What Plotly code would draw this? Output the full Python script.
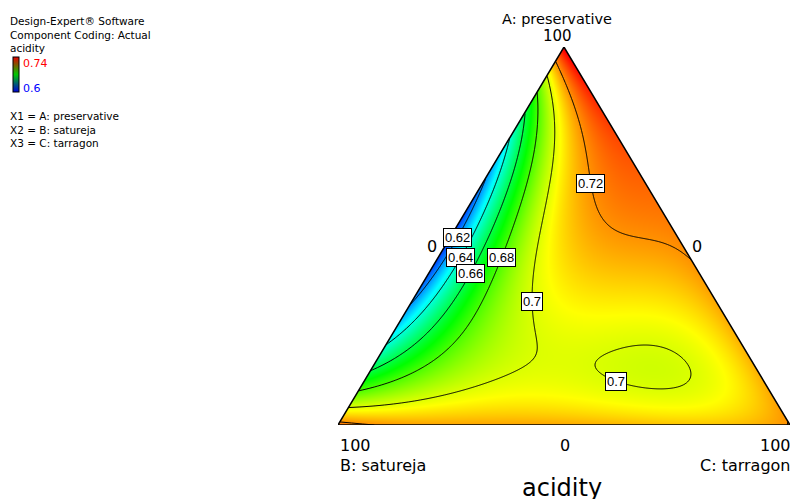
import numpy as np
import plotly.graph_objects as go

# ---------------- data ----------------
components = ["A: preservative", "B: satureja", "C: tarragon"]
response_name = "acidity"
header_lines = ["Design-Expert® Software", "Component Coding: Actual", "acidity"]
factor_lines = ["X1 = A: preservative", "X2 = B: satureja", "X3 = C: tarragon"]
scale_high_label, scale_low_label = "0.74", "0.6"
scale_low, scale_high = 0.6, 0.74
contour_start, contour_end, contour_step = 0.62, 0.72, 0.02
vertex_max_label, vertex_min_label = "100", "0"

# mixture compositions (fractions of A, B, C) and acidity
obs_A = [1.0, 0.0, 0.0,
         0.045, 0.09, 0.146, 0.217, 0.30, 0.50, 0.70, 0.75, 0.815, 0.873, 0.926, 0.965,
         0.431, 0.85, 0.65, 0.2,
         0.0, 0.0, 0.0,
         0.701, 0.754, 0.516, 0.312, 0.217, 0.164, 0.119, 0.085, 0.058, 0.251, 0.595, 0.1005, 0.143,
         0.701, 0.444, 0.331, 0.206, 0.140, 0.106,
         0.701, 0.3995, 0.331, 0.243, 0.18,
         0.701, 0.444, 0.331,
         0.495,
         0.151, 0.124, 0.209, 0.082, 0.18, 0.098, 0.1455,
         0.754, 0.640, 0.587, 0.537, 0.497, 0.487, 0.463,
         0.33, 0.10, 0.04, 0.60, 0.25, 0.40, 0.30, 0.05, 0.30, 0.1455]
obs_B = [0.0, 1.0, 0.0,
         0.955, 0.91, 0.854, 0.783, 0.70, 0.50, 0.30, 0.25, 0.185, 0.127, 0.074, 0.035,
         0.0, 0.0, 0.0, 0.0,
         0.5, 0.25, 0.75,
         0.174, 0.143, 0.291, 0.415, 0.467, 0.522, 0.626, 0.754, 0.878, 0.447, 0.242, 0.691, 0.559,
         0.218, 0.42, 0.514, 0.621, 0.7265, 0.817,
         0.2535, 0.5125, 0.576, 0.675, 0.78,
         0.278, 0.508, 0.638,
         0.4914,
         0.385, 0.153, 0.227, 0.269, 0.158, 0.356, 0.263,
         0.081, 0.120, 0.133, 0.1295, 0.090, 0.044, 0.0115,
         0.33, 0.45, 0.48, 0.05, 0.40, 0.25, 0.10, 0.10, 0.03, 0.453]
obs_C = [0.0, 0.0, 1.0,
         0.0, 0.0, 0.0, 0.0, 0.0, 0.0, 0.0, 0.0, 0.0, 0.0, 0.0, 0.0,
         0.569, 0.15, 0.35, 0.8,
         0.5, 0.75, 0.25,
         0.125, 0.103, 0.193, 0.273, 0.316, 0.314, 0.255, 0.161, 0.064, 0.302, 0.163, 0.2085, 0.298,
         0.081, 0.136, 0.155, 0.173, 0.1335, 0.077,
         0.0455, 0.088, 0.093, 0.082, 0.04,
         0.021, 0.048, 0.031,
         0.0136,
         0.464, 0.723, 0.564, 0.649, 0.662, 0.546, 0.5915,
         0.165, 0.240, 0.280, 0.3335, 0.413, 0.469, 0.5255,
         0.34, 0.45, 0.48, 0.35, 0.35, 0.35, 0.60, 0.85, 0.67, 0.401]
obs_acidity = [0.740, 0.726, 0.720,
               0.70, 0.68, 0.66, 0.64, 0.62, 0.601, 0.62, 0.64, 0.66, 0.68, 0.70, 0.72,
               0.72, 0.735, 0.728, 0.714,
               0.713, 0.715, 0.717,
               0.70, 0.70, 0.70, 0.70, 0.70, 0.70, 0.70, 0.70, 0.70, 0.70, 0.70, 0.70, 0.70,
               0.68, 0.68, 0.68, 0.68, 0.68, 0.68,
               0.66, 0.66, 0.66, 0.66, 0.66,
               0.64, 0.64, 0.64,
               0.62,
               0.70, 0.70, 0.70, 0.70, 0.70, 0.70, 0.695,
               0.72, 0.72, 0.72, 0.72, 0.72, 0.72, 0.72,
               0.706, 0.705, 0.71, 0.725, 0.704, 0.71, 0.71, 0.715, 0.713, 0.703]


# ---------------- Scheffe quartic mixture model fitted to the read values ----------------
def terms(a, b, c):
    return np.stack([a, b, c, a * b, a * c, b * c,
                     a * b * (a - b), a * c * (a - c), b * c * (b - c),
                     a * b * (a - b) ** 2, a * c * (a - c) ** 2, b * c * (b - c) ** 2,
                     a * a * b * c, a * b * b * c, a * b * c * c], axis=-1)


oa, ob, oc = (np.array(v, float) for v in (obs_A, obs_B, obs_C))
oy = np.array(obs_acidity)
# read contour crossings are more reliable than colour-estimated values
wts = np.where(np.isin(np.round(oy, 3), [0.62, 0.64, 0.66, 0.68, 0.70, 0.72]), 2.0, 1.0)
coef, *_ = np.linalg.lstsq(terms(oa, ob, oc) * wts[:, None], oy * wts, rcond=None)


def model(a, b, c):
    return terms(a, b, c) @ coef


def to_xy(a, b, c):
    a, b, c = (np.asarray(v, float) for v in (a, b, c))
    s = a + b + c
    a, c = a / s, c / s
    return c + a / 2.0, a


nu, nv = 452, 378
u = np.linspace(0, 1, nu)
v = np.linspace(0, 1, nv)
U, V = np.meshgrid(u, v)
GA = V
GC = U - V / 2.0
GB = 1.0 - GA - GC
inside = (GC >= -1e-9) & (GB >= -1e-9)
Z = np.where(inside, model(GA, GB, GC), np.nan)

colorscale = [[0.0, "rgb(0,0,255)"], [0.25, "rgb(0,255,255)"], [0.5, "rgb(0,255,0)"],
              [0.75, "rgb(255,255,0)"], [1.0, "rgb(255,0,0)"]]

# plot-area geometry (pixels)
W, H = 792, 499
L, R, T, BOT = 338, 2, 47, 74
PW, PH = W - L - R, H - T - BOT


def px(xp):
    return (xp - L) / PW


def py(yp):
    return (H - BOT - yp) / PH


fig = go.Figure()
fig.add_trace(go.Heatmap(x=u, y=v, z=Z, zmin=scale_low, zmax=scale_high,
                         colorscale=colorscale, zsmooth=False, showscale=False,
                         hoverinfo="skip"))
fig.add_trace(go.Contour(x=u, y=v, z=Z, showscale=False, hoverinfo="skip",
                         colorscale=[[0, "black"], [1, "black"]],
                         contours=dict(coloring="lines", start=contour_start,
                                       end=contour_end + 1e-6, size=contour_step,
                                       showlabels=False),
                         line=dict(width=1, color="black")))

# triangle frame from the three pure-component vertices
vx, vy = to_xy([1, 0, 0, 1], [0, 1, 0, 0], [0, 0, 1, 0])
fig.add_trace(go.Scatter(x=vx, y=vy, mode="lines", line=dict(color="black", width=1.5),
                         hoverinfo="skip", showlegend=False))

# small legend colour bar
fig.add_trace(go.Scatter(x=[None, None], y=[None, None], mode="markers", showlegend=False,
                         marker=dict(color=[scale_low, scale_high], cmin=scale_low, cmax=scale_high,
                                     colorscale=[[0, "rgb(0,0,220)"], [0.5, "rgb(0,200,0)"],
                                                 [1, "rgb(230,0,0)"]],
                                     showscale=True,
                                     colorbar=dict(x=px(13), xanchor="left", y=py(57), yanchor="top",
                                                   lenmode="pixels", len=35, thickness=6,
                                                   thicknessmode="pixels", xpad=0, ypad=0,
                                                   outlinecolor="black", outlinewidth=1,
                                                   showticklabels=False, ticks=""))))

font_family = "DejaVu Sans, Liberation Sans, Arial, sans-serif"
label_family = "Liberation Sans, Arial, sans-serif"
ann = []


def add_text(text, xpix, ypix, size, xanchor="center", color="black", family=font_family):
    ann.append(dict(text=text, x=px(xpix), y=py(ypix), xref="paper", yref="paper",
                    xanchor=xanchor, yanchor="middle", showarrow=False, borderpad=0,
                    font=dict(size=size, color=color, family=family)))


for i, t in enumerate(header_lines):
    add_text(t, 9, 21 + 13.5 * i, 10.5, "left")
add_text(scale_high_label, 22, 63, 11, "left", "red")
add_text(scale_low_label, 22, 88, 11, "left", "blue")
for i, t in enumerate(factor_lines):
    add_text(t, 9, 116 + 13.5 * i, 10.5, "left")

add_text(components[0], 557, 19, 14.5)
add_text(vertex_max_label, 557, 36, 15)
add_text(vertex_min_label, 432, 246, 16)
add_text(vertex_min_label, 697, 246, 16)
add_text(vertex_max_label, 339, 445, 16, "left")
add_text(vertex_min_label, 565, 445, 16)
add_text(vertex_max_label, 792, 445, 16, "right")
add_text(components[1], 339, 465, 16, "left")
add_text(components[2], 792, 465, 16, "right")
add_text(response_name, 562, 488, 24)

# boxed contour labels: placed where each level crosses a chosen row of constant A
label_rows = [(0.62, 0.495, 0), (0.64, 0.444, 0), (0.66, 0.40, 0), (0.68, 0.444, 0),
              (0.70, 0.328, 0), (0.72, 0.64, 0), (0.70, 0.116, 1)]
for level, a_row, k in label_rows:
    us = np.linspace(a_row / 2 + 1e-6, 1 - a_row / 2 - 1e-6, 3000)
    cc = us - a_row / 2
    bb = 1 - a_row - cc
    d = model(np.full_like(us, a_row), bb, cc) - level
    idx = np.where(np.sign(d[:-1]) != np.sign(d[1:]))[0]
    if len(idx) > k:
        i = idx[k]
        ux = us[i] - d[i] * (us[i + 1] - us[i]) / (d[i + 1] - d[i])
        ann.append(dict(text=("%.2f" % level).rstrip("0"), x=ux, y=a_row, xref="x", yref="y",
                        showarrow=False, bgcolor="white", bordercolor="black", borderwidth=1,
                        borderpad=1, font=dict(size=13, color="black", family=label_family)))

fig.update_layout(width=W, height=H, margin=dict(l=L, r=R, t=T, b=BOT),
                  paper_bgcolor="white", plot_bgcolor="white", showlegend=False,
                  xaxis=dict(range=[0, 1], visible=False, fixedrange=True),
                  yaxis=dict(range=[0, 1], visible=False, fixedrange=True),
                  annotations=ann)
fig.write_html("out.html")
